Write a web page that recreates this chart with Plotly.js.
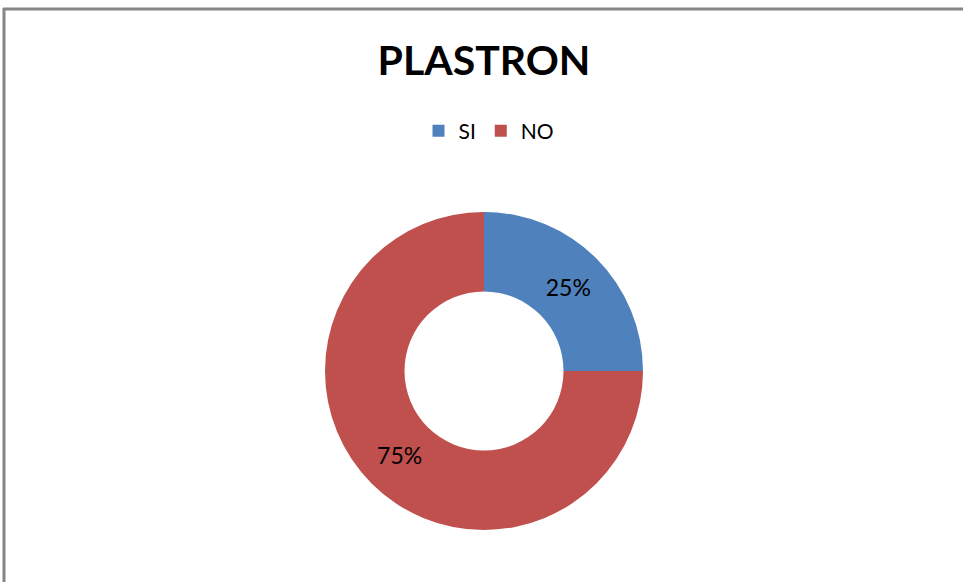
<!DOCTYPE html>
<html>
<head>
<meta charset="utf-8">
<script src="https://cdn.plot.ly/plotly-3.0.1.min.js"></script>
<style>html,body{margin:0;padding:0;background:#fff;}#chart{width:963px;height:582px;}</style>
</head>
<body>
<div id="chart"></div>
<script>
var categories = ["SI", "NO"];
var values = [25, 75];
var colors = ["#4F81BD", "#C0504D"];
var chartTitle = "PLASTRON";

var W = 963, H = 582;
var trace = {
  type: "pie",
  labels: categories,
  values: values,
  hole: 0.5,
  sort: false,
  direction: "clockwise",
  rotation: 0,
  marker: {colors: colors, line: {width: 0}},
  textinfo: "percent",
  textposition: "inside",
  insidetextorientation: "horizontal",
  texttemplate: "%{percent:.0%}",
  textfont: {family: "Lato, 'Open Sans', sans-serif", size: 23, color: "#000"},
  hoverinfo: "none",
  domain: {x: [325 / W, 643 / W], y: [1 - 530 / H, 1 - 212 / H]}
};
var layout = {
  width: W, height: H,
  margin: {l: 0, r: 0, t: 0, b: 0},
  paper_bgcolor: "#fff",
  title: {text: "<b>" + chartTitle + "</b>", x: 484 / W, xanchor: "center", y: 1 - 61 / H, yanchor: "middle",
          font: {family: "Lato, 'Open Sans', sans-serif", size: 41, color: "#000"}},
  showlegend: true,
  legend: {orientation: "h", x: 489 / W, xanchor: "center", y: 1 - 131 / H, yanchor: "middle",
           font: {family: "Lato, 'Open Sans', sans-serif", size: 21, color: "#000"}, itemwidth: 30, traceorder: "normal"},
  shapes: [
    {type: "line", xref: "paper", yref: "paper", x0: 4 / W, x1: 4 / W, y0: 0, y1: 1 - 8 / H, line: {color: "#868686", width: 3}},
    {type: "line", xref: "paper", yref: "paper", x0: 3 / W, x1: 1, y0: 1 - 9 / H, y1: 1 - 9 / H, line: {color: "#868686", width: 3}}
  ]
};
Plotly.newPlot("chart", [trace], layout, {displayModeBar: false, staticPlot: true});
</script>
</body>
</html>
